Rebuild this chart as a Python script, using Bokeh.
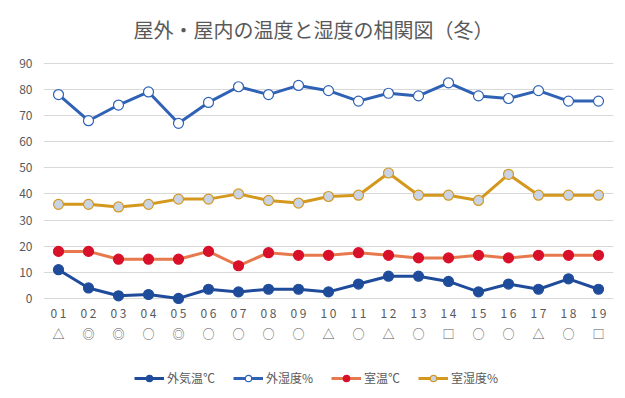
from bokeh.plotting import figure
from bokeh.models import Legend, LegendItem, FixedTicker, ColumnDataSource, Label
from bokeh.embed import file_html
from bokeh.resources import INLINE

title_text = "屋外・屋内の温度と湿度の相関図（冬）"
days = ["0 1", "0 2", "0 3", "0 4", "0 5", "0 6", "0 7", "0 8", "0 9", "1 0",
        "1 1", "1 2", "1 3", "1 4", "1 5", "1 6", "1 7", "1 8", "1 9"]
marks = ["△", "◎", "◎", "○", "◎", "○", "○", "○", "○", "△",
         "○", "△", "○", "□", "○", "○", "△", "○", "□"]
out_temp = [11, 4, 1, 1.5, 0, 3.5, 2.5, 3.5, 3.5, 2.5, 5.5, 8.5, 8.5, 6.5, 2.5, 5.5, 3.5, 7.5, 3.5]
out_hum = [78, 68, 74, 79, 67, 75, 81, 78, 81.5, 79.5, 75.5, 78.5, 77.5, 82.5, 77.5, 76.5, 79.5, 75.5, 75.5]
room_temp = [18, 18, 15, 15, 15, 18, 12.5, 17.5, 16.5, 16.5, 17.5, 16.5, 15.5, 15.5, 16.5, 15.5, 16.5, 16.5, 16.5]
room_hum = [36, 36, 35, 36, 38, 38, 40, 37.5, 36.5, 39, 39.5, 48, 39.5, 39.5, 37.5, 47.5, 39.5, 39.5, 39.5]
series_names = ["外気温℃", "外湿度%", "室温℃", "室湿度%"]
y_ticks = [0, 10, 20, 30, 40, 50, 60, 70, 80, 90]

labels = [f"{d}\n{m}" for d, m in zip(days, marks)]
src = ColumnDataSource(dict(x=labels, ot=out_temp, oh=out_hum, rt=room_temp, rh=room_hum))

FONT = "Noto Sans CJK JP"
GRAY = "#595959"

# the frame covers the whole chart area; values use 0..90, the rest holds title, tick labels, legend
p = figure(frame_width=570, frame_height=392, x_range=labels, y_range=(-36, 114),
           output_backend="svg", toolbar_location=None,
           min_border_left=43, min_border_right=4, min_border_top=0, min_border_bottom=0)
p.outline_line_color = None

p.add_layout(Label(x=9.0, y=102.9, text=title_text, text_align="center", text_baseline="middle",
                   text_font=FONT, text_font_size="20px", text_color=GRAY))

p.xgrid.grid_line_color = None
p.ygrid.grid_line_color = "#D9D9D9"
p.ygrid.ticker = FixedTicker(ticks=y_ticks)
p.yaxis.ticker = FixedTicker(ticks=y_ticks)
p.xaxis.fixed_location = 0
for ax in (p.xaxis[0], p.yaxis[0]):
    ax.axis_line_color = None
    ax.major_tick_line_color = None
    ax.minor_tick_line_color = None
    ax.major_tick_out = 0
    ax.major_tick_in = 0
    ax.major_label_text_color = GRAY
    ax.major_label_text_font = FONT
    ax.major_label_text_font_size = "12px"
p.yaxis.major_label_standoff = 11
p.xaxis.major_label_standoff = 6

specs = [
    ("ot", "#1F4C9A", "#1F4C9A", "#1F4C9A"),
    ("oh", "#2F62B5", "#FFFFFF", "#2F62B5"),
    ("rt", "#E8784E", "#D8102A", "#D8102A"),
    ("rh", "#D4981E", "#C8D4E6", "#D4981E"),
]
items = []
for (col, lc, fc, mc), name in zip(specs, series_names):
    l = p.line("x", col, source=src, line_color=lc, line_width=3)
    s = p.scatter("x", col, source=src, size=10, fill_color=fc, line_color=mc, line_width=1.2)
    items.append(LegendItem(label=name, renderers=[l, s]))

legend = Legend(items=items, orientation="horizontal", location=(91, 6),
                label_text_font=FONT, label_text_font_size="12px", label_text_color=GRAY,
                glyph_width=30, glyph_height=16, label_height=16, spacing=18, padding=4, margin=0,
                label_standoff=3,
                border_line_color=None, background_fill_alpha=0)
p.add_layout(legend, "center")

open("out.html", "w").write(file_html(p, INLINE))
